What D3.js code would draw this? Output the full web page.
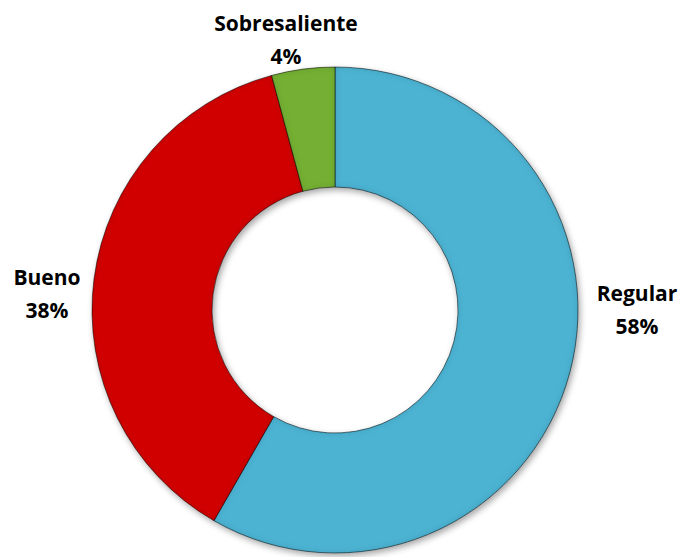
<!DOCTYPE html>
<html><head><meta charset="utf-8">
<script src="https://cdn.jsdelivr.net/npm/d3@7"></script>
<style>body{margin:0;background:#fff}</style>
</head><body>
<svg id="c" width="684" height="557"></svg>
<script>
const categories = ["Regular", "Bueno", "Sobresaliente"];
const values = [58.3, 37.5, 4.2];
const labels = ["58%", "38%", "4%"];
const colors = ["#4EB3D3", "#D10000", "#74B034"];

const svg = d3.select("#c");
const cx = 335, cy = 310, rOut = 243, rIn = 123;
const defs = svg.append("defs");
const f = defs.append("filter").attr("id","sh").attr("x","-20%").attr("y","-20%").attr("width","140%").attr("height","140%");
f.append("feDropShadow").attr("dx",2).attr("dy",3).attr("stdDeviation",3).attr("flood-color","#000").attr("flood-opacity",0.35);
const ib = defs.append("filter").attr("id","bev");
ib.append("feGaussianBlur").attr("in","SourceAlpha").attr("stdDeviation",3).attr("result","b");
ib.append("feComposite").attr("in","SourceAlpha").attr("in2","b").attr("operator","arithmetic").attr("k2",1).attr("k3",-1).attr("result","edge");
ib.append("feFlood").attr("flood-color","#000").attr("flood-opacity",0.3);
ib.append("feComposite").attr("in2","edge").attr("operator","in").attr("result","dark");
const m = ib.append("feMerge");
m.append("feMergeNode").attr("in","SourceGraphic");
m.append("feMergeNode").attr("in","dark");

const pie = d3.pie().sort(null).value(d => d)(values);
const arc = d3.arc().innerRadius(rIn).outerRadius(rOut);
const g = svg.append("g").attr("transform", `translate(${cx},${cy})`);
const sg = g.append("g").attr("filter","url(#sh)");
sg.selectAll("path").data(pie).join("path")
  .attr("d", arc).attr("fill", (d,i) => colors[i])
  .attr("filter","url(#bev)")
  .attr("stroke","rgba(0,0,0,0.5)").attr("stroke-width",1);

const labelPos = [[637, 301], [47, 285], [286, 31]];
const t = svg.append("g").attr("font-family","'Open Sans', sans-serif").attr("font-weight","bold")
  .attr("font-size","21px").attr("fill","#000").attr("text-anchor","middle");
categories.forEach((c,i) => {
  const tx = t.append("text").attr("x", labelPos[i][0]).attr("y", labelPos[i][1]);
  tx.append("tspan").attr("x", labelPos[i][0]).text(c);
  tx.append("tspan").attr("x", labelPos[i][0]).attr("dy", 33).text(labels[i]);
});
</script>
</body></html>
